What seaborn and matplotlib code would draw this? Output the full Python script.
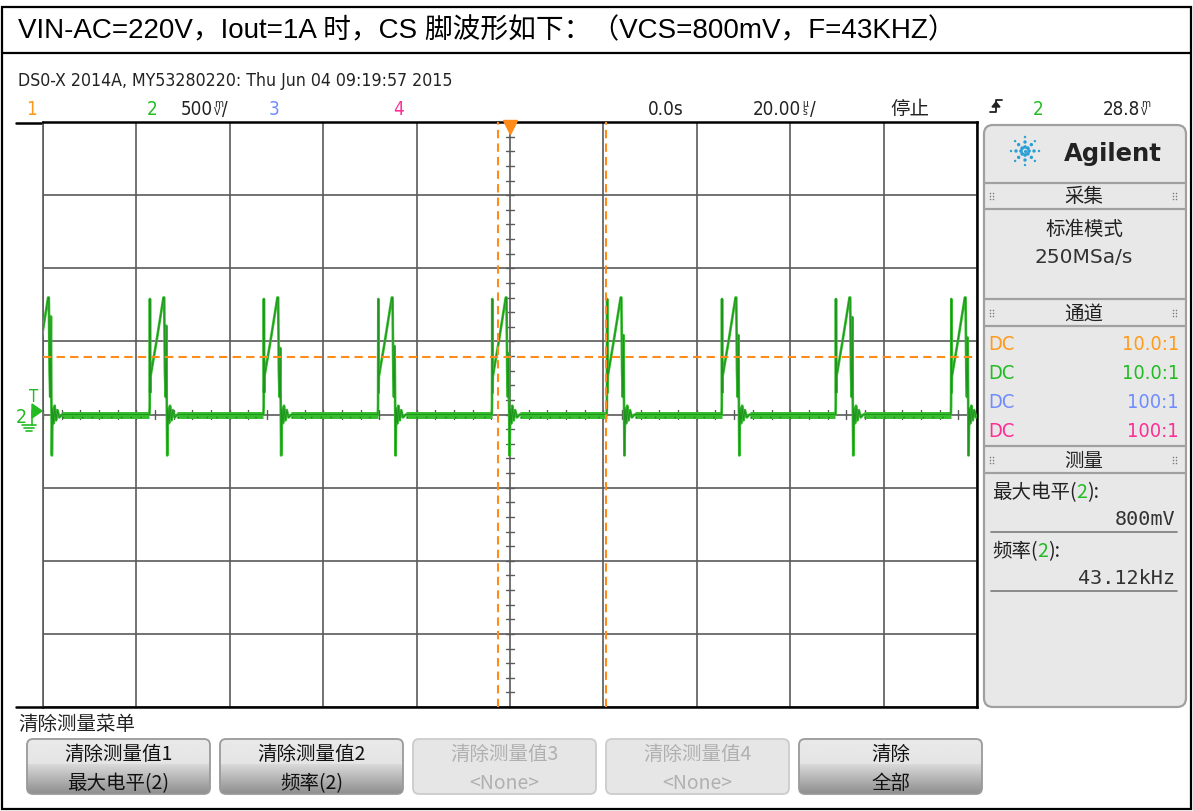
"""
Scope capture: CS pin waveform at VIN-AC=220V, Iout=1A
"""

## Import packages
import numpy as np
import pandas as pd
import matplotlib
matplotlib.use('Agg')
import matplotlib.pyplot as plt
from matplotlib import font_manager
from matplotlib.patches import FancyBboxPatch, Rectangle, Polygon
import seaborn as sns


## Data
title_text = "VIN-AC=220V，Iout=1A 时，CS 脚波形如下：（VCS=800mV，F=43KHZ）"
header_text = "DS0-X 2014A, MY53280220: Thu Jun 04 09:19:57 2015"

# rising edge of every switching pulse [us], 0 = trigger point
pulse_rise_us = [-101.9, -77.2, -52.8, -28.3, -3.9, 20.7, 45.3, 69.7, 94.4]
# top of the ringing spike after each turn-off [mV]
ring_peak_mv = [670, 607, 455, 468, 420, 543, 543, 666, 526]
# shape of one pulse relative to its rising edge (None = ringing spike)
shape_dt_us = [0.0, 0.05, 0.10, 0.16, 0.22, 0.6, 1.0, 1.5, 2.0, 2.5, 3.0, 3.15,
               3.3, 3.45, 3.6, 3.7, 3.8, 3.95, 4.2, 4.4, 4.7, 5.0, 5.4, 6.0]
shape_mv = [0, 60, 790, 150, 260, 330, 400, 500, 600, 700, 800, 800,
            300, 120, None, 100, -280, 40, -60, 60, -40, 30, -20, 0]

# cursors
cursor_level_mv = 390
cursor_times_us = [-2.5, 20.6]

# channel / panel texts
channel_names = ['1', '2', '3', '4']
channel_colors = ['#ff9a1a', '#22bb22', '#6f8cff', '#ff2d95']
coupling = ['DC', 'DC', 'DC', 'DC']
probe_ratio = ['10.0:1', '10.0:1', '100:1', '100:1']
meas_names = ['最大电平', '频率']
meas_values = ['800mV', '43.12kHz']
button_top = ['清除测量值1', '清除测量值2', '清除测量值3', '清除测量值4', '清除']
button_bottom = ['最大电平(2)', '频率(2)', '<None>', '<None>', '全部']
button_active = [True, True, False, False, True]


## Build waveform table
t_list, v_list = [], []
for rise, ring in zip(pulse_rise_us, ring_peak_mv):
    for dt, mv in zip(shape_dt_us, shape_mv):
        t_list.append(rise + dt)
        v_list.append(ring if mv is None else mv)
wave = pd.DataFrame({'t': t_list, 'v': v_list})


## Fonts
sns.set_style('white')
fonts = font_manager.fontManager.ttflist


def pick_narrow():
    # prefer a condensed face for the scope's narrow UI font
    for f in fonts:
        if f.name == 'Liberation Sans Narrow' and f.style == 'normal' and f.weight in (400, 'normal'):
            return dict(family=[f.name, 'DejaVu Sans'])
    for f in fonts:
        if ('Condensed' in f.name or 'Narrow' in f.name or f.stretch in ('condensed', 'semi-condensed')) \
                and f.style == 'normal' and f.weight in (400, 'normal') and 'Mono' not in f.name:
            return dict(family=[f.name, 'DejaVu Sans'], stretch=f.stretch)
    return dict(family=['Liberation Sans', 'DejaVu Sans'])


NARROW = pick_narrow()
TITLE = ['Liberation Sans', 'Noto Sans CJK SC']
CN = ['Noto Sans CJK SC', 'DejaVu Sans']
MONO = ['DejaVu Sans Mono']
plt.rcParams['font.family'] = ['DejaVu Sans']

W, H = 1193, 812
GRID = '#5a5a5a'
ORANGE = '#ff8c1a'
GREEN = '#36bd2e'
DARK_GREEN = '#18821a'
INK = '#222222'


## Figure and pixel overlay
fig = plt.figure(figsize=(W / 100, H / 100), dpi=100)
bg = fig.add_axes([0, 0, 1, 1], zorder=0)
bg.set_xlim(0, W)
bg.set_ylim(H, 0)
bg.axis('off')
renderer = fig.canvas.get_renderer()

# header line, sized so that its width matches the capture
hdr = bg.text(18, 86, header_text, fontsize=14, color=INK, va='baseline', **NARROW)
k = 435 / hdr.get_window_extent(renderer).width
hdr.set_fontsize(14 * k)


def ntext(x, y, s, size, **kw):
    # narrow scope font, scaled the same way as the header line
    return bg.text(x, y, s, fontsize=size * k * 1.03, va='baseline', **NARROW, **kw)


def seq_text(x, y, parts, **kw):
    # draw text pieces one after another, return right edge
    for s, color in parts:
        t = bg.text(x, y, s, color=color, **kw)
        x += t.get_window_extent(renderer).width
    return x


def stacked(x, y, top, bottom, color=INK):
    bg.text(x, y - 8, top, fontsize=7.5, color=color, ha='left', va='baseline', **NARROW)
    bg.text(x, y, bottom, fontsize=7.5, color=color, ha='left', va='baseline', **NARROW)
    return x + 8


def right_edge(t):
    return t.get_window_extent(renderer).x1


# outer frame and title row
bg.add_patch(Rectangle((1.5, 7.5), W - 3.5, H - 10, fill=False, ec='black', lw=1.6))
bg.plot([1.5, W - 2], [54, 54], color='black', lw=1.6)
bg.text(18, 38, title_text, fontsize=20, family=TITLE, color='black', va='baseline')

# channel row
for name, color, x in zip(channel_names, channel_colors, [26, 147, 269, 393]):
    ntext(x, 115, name, 14.5, color=color)
xr = stacked(right_edge(ntext(181, 115, '500', 14.5, color=INK)) + 1, 115, 'm', 'V')
ntext(xr, 115, '/', 14.5, color=INK)
ntext(648, 115, '0.0s', 14.5, color=INK)
xr = stacked(right_edge(ntext(753, 115, '20.00', 14.5, color=INK)) + 1, 115, 'µ', 's')
ntext(xr, 115, '/', 14.5, color=INK)
bg.text(890, 115, '停止', fontsize=14, family=CN, color=INK, va='baseline')
# rising edge trigger glyph
bg.plot([990, 996, 996, 1002], [113, 113, 101, 101], color=INK, lw=1.3)
bg.add_patch(Polygon([[992, 108], [1000, 108], [996, 103]], color=INK))
ntext(1033, 115, '2', 14.5, color=channel_colors[1])
stacked(right_edge(ntext(1103, 115, '28.8', 14.5, color=INK)) + 1, 115, 'm', 'V')


## Scope grid axes
ax = fig.add_axes([43 / W, 1 - 708 / H, 934 / W, 585 / H], zorder=1)
ax.set_facecolor('white')
ax.set_xticks(np.arange(-100, 101, 20))
ax.set_yticks(np.arange(-2000, 2001, 500))
ax.grid(True, color=GRID, lw=1.2)
ax.tick_params(length=0, labelbottom=False, labelleft=False)
for side in ['top', 'bottom', 'right']:
    ax.spines[side].set_color('black')
    ax.spines[side].set_linewidth(1.8)
ax.spines['left'].set_color(GRID)
ax.spines['left'].set_linewidth(1.2)

# minor ticks on the centre cross
for yy in np.arange(-2000, 2001, 100):
    ax.plot([-0.9, 0.9], [yy, yy], color=GRID, lw=1.0, zorder=2)
for tt in np.arange(-100, 101, 4):
    ax.plot([tt, tt], [-28, 28], color=GRID, lw=1.0, zorder=2)

# frame stubs left of the grid
bg.plot([16, 43], [123.5, 123.5], color='black', lw=1.8)
bg.plot([16, 43], [708, 708], color='black', lw=1.8)

# baseline band between pulses
starts = [-100] + [r + shape_dt_us[-1] for r in pulse_rise_us[:-1]]
stops = pulse_rise_us
ax.hlines(np.zeros(len(starts)), starts, stops, color=GREEN, lw=5, zorder=3)
ax.hlines(np.full(len(starts), -15), starts, stops, color=DARK_GREEN, lw=1.0, zorder=3,
          linestyles=(0, (1, 6)))

# waveform
sns.lineplot(data=wave, x='t', y='v', ax=ax, color=GREEN, lw=1.9,
             estimator=None, sort=False, zorder=4)
sns.lineplot(data=wave, x='t', y='v', ax=ax, color=DARK_GREEN, lw=0.7,
             estimator=None, sort=False, zorder=4, alpha=0.7)
ax.set_xlabel('')
ax.set_ylabel('')
ax.set_xlim(-100, 100)
ax.set_ylim(-2000, 2000)

# cursors
ax.axhline(cursor_level_mv, color=ORANGE, lw=1.5, ls=(0, (4, 2.5)), zorder=5)
for tc in cursor_times_us:
    ax.axvline(tc, color=ORANGE, lw=1.5, ls=(0, (4, 2.5)), zorder=5)

# trigger position marker
ax.plot([0.5], [1 - 5 / 585], marker='v', ms=10, color=ORANGE,
        transform=ax.transAxes, clip_on=False, zorder=6)

# channel 2 ground marker
g = channel_colors[1]
bg.text(21, 423, '2', fontsize=14, color=g, ha='center', va='baseline', **NARROW)
bg.text(34, 402, 'T', fontsize=12, color=g, ha='center', va='baseline', **NARROW)
bg.add_patch(Polygon([[32, 405], [32, 419], [42, 412]], color=g))
bg.plot([32, 32], [412, 426], color=g, lw=1.2)
for i, half in enumerate([7, 5, 3]):
    bg.plot([29 - half, 29 + half], [426 + 3 * i, 426 + 3 * i], color=g, lw=1.2)


## Right information panel
bg.add_patch(FancyBboxPatch((984, 126), 202, 582,
                            boxstyle='round,pad=0,rounding_size=9',
                            fc='#e8e8e8', ec='#a0a0a0', lw=1.6))
for yy in [184, 210, 300, 327, 447, 474]:
    bg.plot([985, 1185], [yy, yy], color='#a0a0a0', lw=1.6)

# Agilent spark logo
cx, cy = 1025, 152
for kk in range(8):
    a = np.pi / 4 * kk
    rr = np.array([4, 9, 14])
    bg.scatter(cx + rr * np.cos(a), cy + rr * np.sin(a), s=[7, 6, 3],
               color='#2a9fd6', linewidths=0)
bg.scatter([cx], [cy], s=5, color='#2a9fd6', linewidths=0)
bg.text(1064, 161, 'Agilent', fontsize=17.5, family=['DejaVu Sans'],
        weight='bold', color=INK, va='baseline')


def grip(x, y):
    for dx in [0, 3]:
        for dy in [-3, 0, 3]:
            bg.scatter([x + dx], [y + dy], s=1.2, color='#777777', linewidths=0)


for yy, label in zip([197, 314, 461], ['采集', '通道', '测量']):
    grip(990, yy)
    grip(1173, yy)
    bg.text(1084, yy, label, fontsize=14, family=CN, color=INK,
            ha='center', va='center')

bg.text(1084, 229, '标准模式', fontsize=14, family=CN, color=INK, ha='center', va='center')
bg.text(1084, 263, '250MSa/s', fontsize=14.5, family=['DejaVu Sans'], color='#333333',
        ha='center', va='baseline')

for yy, cpl, ratio, color in zip([350, 379, 408, 437], coupling, probe_ratio, channel_colors):
    ntext(988, yy, cpl, 15.5, color=color)
    ntext(1179, yy, ratio, 15.5, color=color, ha='right')

for yy, name, value in zip([498, 557], meas_names, meas_values):
    seq_text(992, yy, [(name + '(', INK), ('2', g), ('):', INK)],
             fontsize=14, family=CN, va='baseline')
    bg.text(1175, yy + 27, value, fontsize=14.5, family=MONO, color='#333333',
            ha='right', va='baseline')
    bg.plot([991, 1177], [yy + 35, yy + 35], color='#7a7a7a', lw=1.2)


## Bottom soft-key menu
bg.text(18, 730, '清除测量菜单', fontsize=14, family=CN, color=INK, va='baseline')

shade = np.concatenate([np.linspace(0.915, 0.895, 25), np.linspace(0.85, 0.56, 30)])
active_img = np.repeat(shade[:, None], 2, axis=1)
for i, (top, bot, act) in enumerate(zip(button_top, button_bottom, button_active)):
    x0 = 27 + i * 193
    box = FancyBboxPatch((x0, 740), 183, 55, boxstyle='round,pad=0,rounding_size=6',
                         fc='#e6e6e6' if not act else 'none',
                         ec='#9a9a9a' if act else '#cccccc', lw=1.3, zorder=2)
    bg.add_patch(box)
    if act:
        im = bg.imshow(active_img, cmap='gray', vmin=0, vmax=1, aspect='auto',
                       extent=(x0, x0 + 183, 795, 740), zorder=1)
        im.set_clip_path(box)
    tc = '#111111' if act else '#b0b0b0'
    bg.text(x0 + 91.5, 760, top, fontsize=14, family=CN, color=tc, ha='center',
            va='baseline', zorder=3)
    bg.text(x0 + 91.5, 789, bot, fontsize=14, family=CN, color=tc, ha='center',
            va='baseline', zorder=3)

bg.set_xlim(0, W)
bg.set_ylim(H, 0)

# Save figure
fig.savefig('out.png', dpi=100)
